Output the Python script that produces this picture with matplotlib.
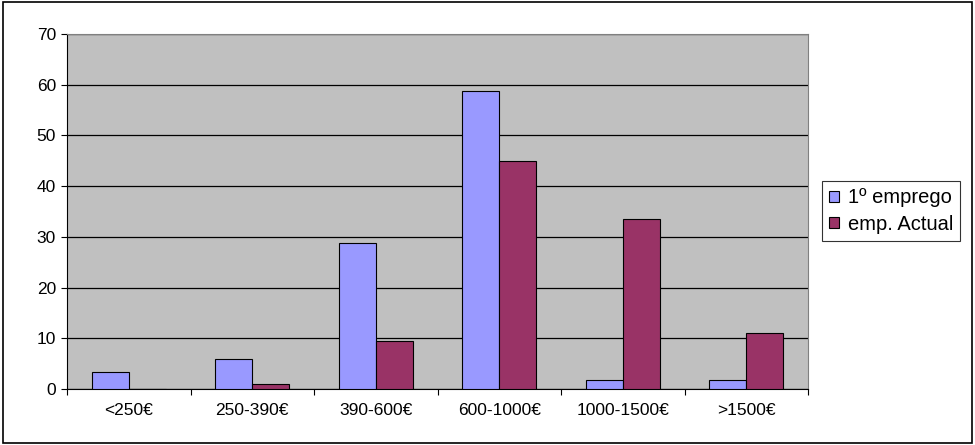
import matplotlib
matplotlib.use("Agg")
import matplotlib.pyplot as plt
from matplotlib.patches import Rectangle
import numpy as np

plt.rcParams['font.family'] = ['Liberation Sans', 'DejaVu Sans']

categories = ['<250€', '250-390€', '390-600€', '600-1000€', '1000-1500€', '>1500€']
primeiro = [3.4, 6.0, 28.8, 58.7, 1.8, 1.8]
actual = [0, 1.0, 9.5, 45.0, 33.6, 11.1]
labels = ['1º emprego', 'emp. Actual']

fig = plt.figure(figsize=(9.75, 4.45), dpi=100)
ax = fig.add_axes([67/975, 56/445, 741/975, 355/445])
ax.set_facecolor('#C0C0C0')

x = np.arange(len(categories))
w = 0.3
ax.bar(x - w/2, primeiro, w, color='#9999FF', edgecolor='black', linewidth=0.8, label=labels[0], zorder=3)
ax.bar(x + w/2, actual, w, color='#993366', edgecolor='black', linewidth=0.8, label=labels[1], zorder=3)

ax.set_xlim(-0.5, len(categories) - 0.5)
ax.set_ylim(0, 70)
ax.set_yticks(range(0, 71, 10))
ax.yaxis.grid(True, color='black', linewidth=0.9, zorder=1)
ax.set_axisbelow(True)

# ticks between categories, labels centred under each group
ax.set_xticks(np.arange(-0.5, len(categories), 1))
ax.set_xticklabels([])
ax.set_xticks(x, minor=True)
ax.set_xticklabels(categories, minor=True)
ax.tick_params(axis='x', which='minor', length=0, pad=10, labelsize=12.5)
ax.tick_params(axis='x', which='major', length=4, direction='out')
ax.tick_params(axis='y', length=4, direction='out', labelsize=12.5, pad=4)

for s in ['top', 'right']:
    ax.spines[s].set_color('#808080')
ax.spines['left'].set_color('black')
ax.spines['bottom'].set_color('black')

leg = ax.legend(loc='center left', bbox_to_anchor=(822/975, 234/445), bbox_transform=fig.transFigure,
                fontsize=14.5, frameon=True, fancybox=False, edgecolor='black',
                handlelength=0.45, handleheight=0.45, handletextpad=0.45, borderpad=0.37,
                labelspacing=0.35, borderaxespad=0)
leg.get_frame().set_linewidth(0.8)

fig.patches.append(Rectangle((0.003, 0.004), 0.994, 0.992, transform=fig.transFigure,
                             fill=False, edgecolor='black', linewidth=1.2))

fig.savefig('out.png', dpi=100)
